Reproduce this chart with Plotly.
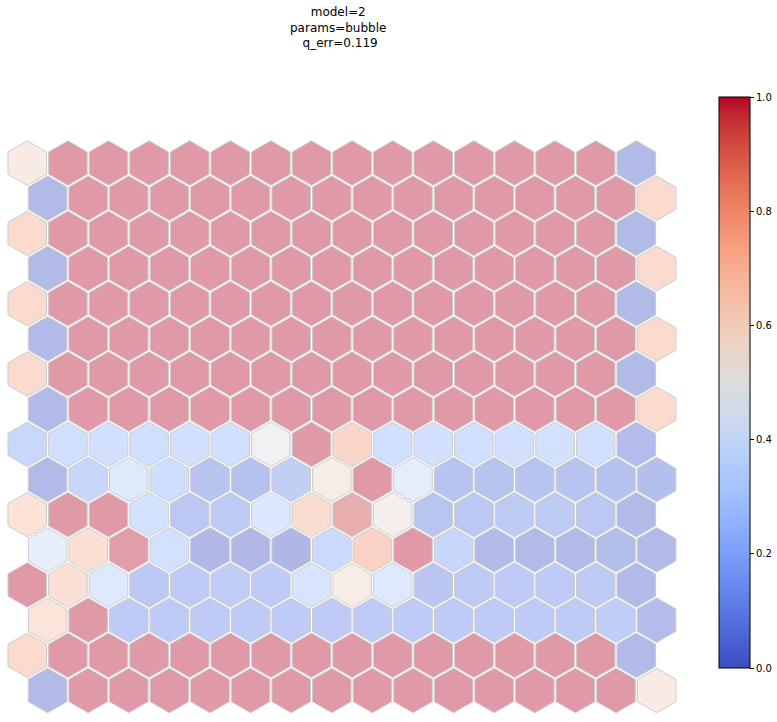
import math
import plotly.graph_objects as go

# ---- data ----
n_rows = 16
n_cols = 16
# cell values, rows listed from top to bottom, columns left to right
cell_values = [
    [0.58] + [1.0] * 14 + [0.02],
    [0.02] + [1.0] * 14 + [0.72],
    [0.72] + [1.0] * 14 + [0.02],
    [0.02] + [1.0] * 14 + [0.72],
    [0.72] + [1.0] * 14 + [0.02],
    [0.02] + [1.0] * 14 + [0.72],
    [0.72] + [1.0] * 14 + [0.02],
    [0.02] + [1.0] * 14 + [0.72],
    [0.20, 0.25, 0.26, 0.25, 0.26, 0.25, 0.50, 1.0, 0.75, 0.25, 0.26, 0.25, 0.26, 0.27, 0.25, 0.03],
    [0.02, 0.19, 0.35, 0.24, 0.07, 0.06, 0.14, 0.57, 1.0, 0.40, 0.07, 0.07, 0.07, 0.07, 0.06, 0.05],
    [0.66, 1.0, 1.0, 0.28, 0.10, 0.11, 0.33, 0.71, 0.95, 0.53, 0.08, 0.10, 0.11, 0.11, 0.10, 0.02],
    [0.42, 0.69, 0.99, 0.27, 0.01, 0.01, 0.00, 0.21, 0.78, 1.0, 0.19, 0.02, 0.02, 0.02, 0.04, 0.02],
    [1.0, 0.68, 0.35, 0.10, 0.12, 0.13, 0.12, 0.30, 0.57, 0.35, 0.09, 0.11, 0.12, 0.12, 0.11, 0.02],
    [0.64, 1.0, 0.12, 0.12, 0.12, 0.12, 0.12, 0.12, 0.12, 0.12, 0.12, 0.12, 0.12, 0.12, 0.13, 0.03],
    [0.72] + [1.0] * 14 + [0.02],
    [0.02] + [1.0] * 14 + [0.58],
]
title_lines = ["model=2", "params=bubble", "\u00a0q_err=0.119"]
cbar_ticks = [0.0, 0.2, 0.4, 0.6, 0.8, 1.0]

# coolwarm colormap (Moreland diverging)
coolwarm_rgb = [
    (59, 76, 192), (68, 90, 204), (77, 104, 215), (87, 117, 225), (98, 130, 234),
    (108, 142, 241), (119, 154, 247), (130, 165, 251), (141, 176, 254), (152, 185, 255),
    (163, 194, 255), (174, 201, 253), (184, 208, 249), (194, 213, 244), (204, 217, 238),
    (213, 219, 230), (221, 221, 221), (229, 216, 209), (236, 211, 197), (241, 204, 185),
    (245, 196, 173), (247, 187, 160), (247, 177, 148), (247, 166, 135), (244, 154, 123),
    (241, 141, 111), (236, 127, 99), (229, 112, 88), (222, 96, 77), (213, 80, 66),
    (203, 62, 56), (192, 40, 47), (180, 4, 38),
]
colorscale = [[i / (len(coolwarm_rgb) - 1), "rgb(%d,%d,%d)" % c] for i, c in enumerate(coolwarm_rgb)]

# ---- hex grid positions ----
xs, ys, vs = [], [], []
for r in range(n_rows):
    for c in range(n_cols):
        xs.append(c + 0.5 * (r % 2))
        ys.append((n_rows - 1 - r) * math.sqrt(3) / 2)
        vs.append(cell_values[r][c])

W, H = 777, 722
unit = 40.6
x0 = -27.3 / unit
y0 = -(H - 690.5) / unit

fig = go.Figure(
    go.Scatter(
        x=xs, y=ys, mode="markers", hoverinfo="skip",
        marker=dict(
            symbol="hexagon", size=44.5, color=vs, colorscale=colorscale,
            cmin=0, cmax=1, opacity=0.4,
            line=dict(color="gray", width=1),
            showscale=True,
            colorbar=dict(
                x=719 / W, xanchor="left", xpad=0,
                y=1 - (97 + 668) / 2 / H, yanchor="middle", ypad=0,
                thickness=31, len=571, lenmode="pixels",
                outlinewidth=1, outlinecolor="black",
                tickvals=cbar_ticks, tickformat=".1f",
                ticks="outside", ticklen=4, tickwidth=1, tickcolor="black",
                tickfont=dict(family="DejaVu Sans", size=10, color="black"),
            ),
        ),
    )
)

fig.add_annotation(
    text="<br>".join(title_lines), x=338 / W, y=1 - 28 / H,
    xref="paper", yref="paper", xanchor="center", yanchor="middle",
    showarrow=False, font=dict(family="DejaVu Sans", size=12, color="black"),
)

fig.update_layout(
    width=W, height=H,
    margin=dict(l=0, r=0, t=0, b=0, autoexpand=False),
    paper_bgcolor="white", plot_bgcolor="white",
    showlegend=False,
    xaxis=dict(range=[x0, x0 + W / unit], visible=False, showgrid=False, zeroline=False),
    yaxis=dict(range=[y0, y0 + H / unit], visible=False, showgrid=False, zeroline=False),
)

fig.write_html("out.html")
